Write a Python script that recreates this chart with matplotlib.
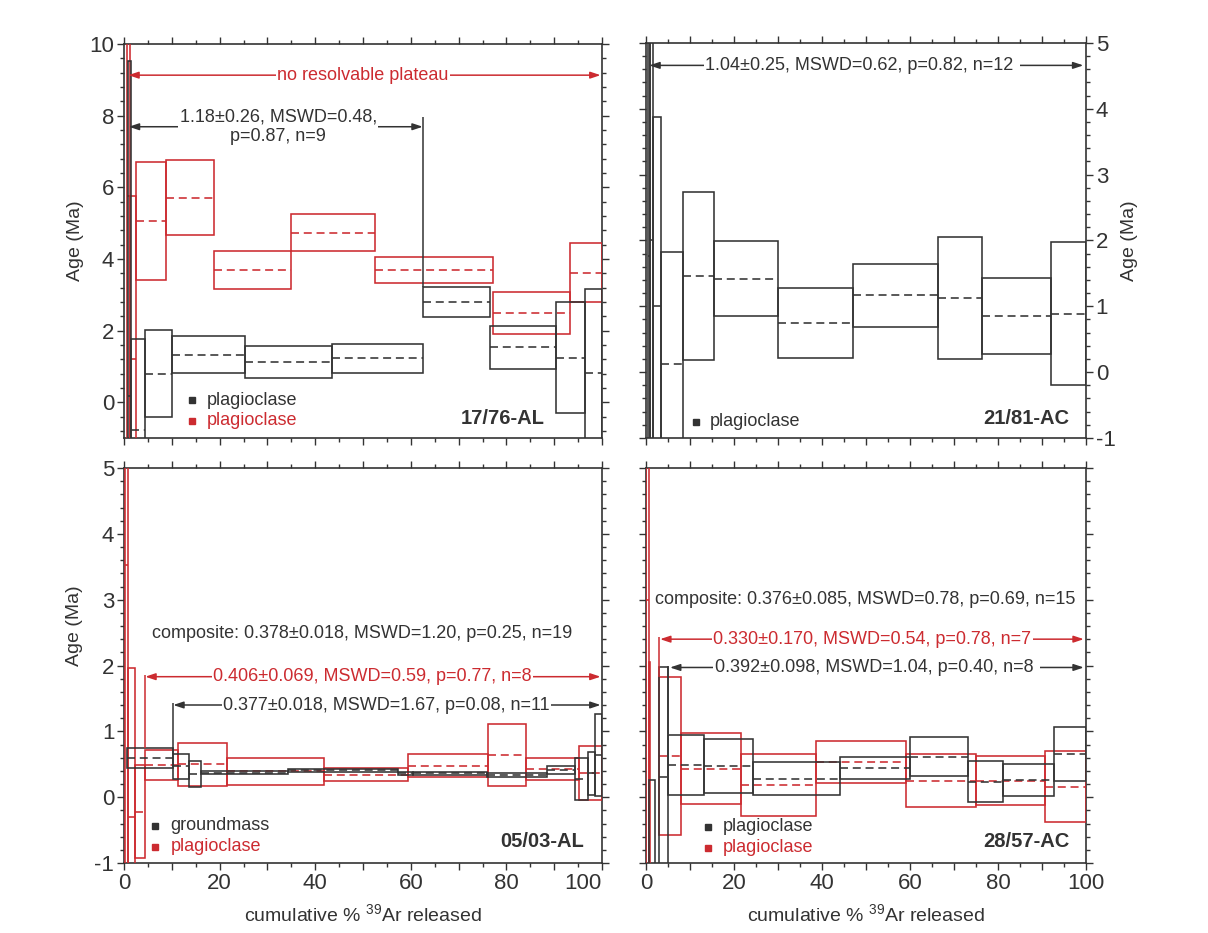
import matplotlib
matplotlib.use('Agg')
import matplotlib.pyplot as plt
from matplotlib.patches import Rectangle
from matplotlib.ticker import MultipleLocator

plt.rcParams['font.family'] = ['Liberation Sans', 'DejaVu Sans']
plt.rcParams['mathtext.default'] = 'regular'
plt.rcParams['axes.unicode_minus'] = False

BLACK = '#333333'
RED = '#cc2b30'

# ---- 17/76-AL (top left) ----
tl_black_edges = [0.9, 1.55, 4.4, 10.1, 25.3, 43.6, 62.5, 76.6, 90.4, 96.4, 100]
tl_black_age = [0.17, -0.78, 0.80, 1.33, 1.12, 1.22, 2.80, 1.53, 1.24, 0.82]
tl_black_err = [9.35, 2.54, 1.22, 0.51, 0.45, 0.41, 0.42, 0.61, 1.55, 2.34]
tl_red_edges = [0.6, 1.26, 2.5, 8.7, 18.8, 34.9, 52.5, 77.1, 93.4, 100]
tl_red_age = [5.76, 1.2, 5.06, 5.71, 3.69, 4.73, 3.70, 2.50, 3.62]
tl_red_err = [12.0, 4.56, 1.65, 1.04, 0.535, 0.51, 0.365, 0.585, 0.815]

# ---- 21/81-AC (top right) ----
tr_black_edges = [0.45, 0.9, 1.67, 3.3, 8.5, 15.5, 30.1, 47.0, 66.3, 76.4, 92.0, 100]
tr_black_age = [1.76, 2.0, 1.0, 0.12, 1.46, 1.42, 0.75, 1.165, 1.13, 0.855, 0.885]
tr_black_err = [10.0, 10.0, 2.88, 1.70, 1.28, 0.57, 0.53, 0.475, 0.93, 0.575, 1.085]

# ---- 05/03-AL (bottom left) ----
bl_black_edges = [0.55, 10.3, 13.6, 16.2, 34.4, 57.4, 60.5, 76.0, 88.5, 94.3, 97.1, 98.6, 100]
bl_black_age = [0.595, 0.47, 0.35, 0.37, 0.41, 0.36, 0.36, 0.335, 0.41, 0.275, 0.365, 0.64]
bl_black_err = [0.145, 0.19, 0.20, 0.025, 0.025, 0.025, 0.025, 0.025, 0.06, 0.325, 0.325, 0.62]
bl_red_edges = [0.3, 0.9, 2.2, 4.45, 11.2, 21.5, 41.8, 59.5, 76.1, 84.2, 95.2, 100]
bl_red_age = [3.53, -0.3, -0.22, 0.49, 0.50, 0.39, 0.34, 0.48, 0.64, 0.43, 0.36]
bl_red_err = [9.0, 2.26, 0.71, 0.23, 0.33, 0.21, 0.10, 0.17, 0.47, 0.17, 0.41]

# ---- 28/57-AC (bottom right) ----
br_black_edges = [0.75, 2.05, 3.0, 4.9, 13.2, 24.4, 44.1, 60.0, 73.1, 81.1, 92.7, 100]
br_black_age = [-2.0, None, 0.3, 0.49, 0.47, 0.28, 0.44, 0.615, 0.235, 0.265, 0.65]
br_black_err = [2.26, None, 1.67, 0.46, 0.41, 0.25, 0.17, 0.295, 0.315, 0.245, 0.41]
br_red_edges = [0, 0.6, 1.0, 3.0, 7.9, 21.5, 38.6, 59.0, 75.0, 90.7, 100]
br_red_age = [3.0, -1.0, None, 0.62, 0.435, 0.19, 0.54, 0.25, 0.25, 0.16]
br_red_err = [10.0, 3.06, None, 1.2, 0.545, 0.47, 0.32, 0.40, 0.37, 0.54]

x_ticks = list(range(0, 101, 10))
x_labels = [str(v) if v % 20 == 0 else '' for v in x_ticks]


def draw_steps(ax, edges, ages, errs, color):
    for i, (a, e) in enumerate(zip(ages, errs)):
        if a is None:
            continue
        x0, x1 = edges[i], edges[i + 1]
        ax.add_patch(Rectangle((x0, a - e), x1 - x0, 2 * e, fill=False,
                               edgecolor=color, lw=1.15, zorder=3))
        ax.hlines(a, x0, x1, colors=color, linestyles=(0, (5, 3)), lw=1.15, zorder=3)


def plateau(ax, x0, x1, y, text, tx, color, drop=None):
    ax.annotate('', xy=(x1, y), xytext=(x0, y), zorder=4,
                arrowprops=dict(arrowstyle='<|-|>,head_length=0.6,head_width=0.2',
                                color=color, lw=1.1, shrinkA=0, shrinkB=0))
    ax.text(tx, y, text, color=color, ha='center', va='center', fontsize=13,
            linespacing=1.2, zorder=5,
            bbox=dict(facecolor='white', edgecolor='none', pad=1))
    if drop is not None:
        ax.vlines(drop[0], drop[1], drop[2], colors=color, lw=1.1, zorder=3)


def setup(ax, ylim, ymajor, yminor):
    ax.set_xlim(0, 100)
    ax.set_ylim(*ylim)
    ax.set_xticks(x_ticks, x_labels)
    ax.xaxis.set_minor_locator(MultipleLocator(5))
    ax.yaxis.set_major_locator(MultipleLocator(ymajor))
    ax.yaxis.set_minor_locator(MultipleLocator(yminor))
    ax.tick_params(which='both', direction='out', top=True, right=True,
                   colors=BLACK, labelsize=16, width=1, pad=2)
    ax.tick_params(which='major', length=5)
    ax.tick_params(which='minor', length=3)
    for s in ax.spines.values():
        s.set_color(BLACK)
        s.set_linewidth(1.2)


def legend(ax, x, y, labels, colors, dy):
    for i, (lab, c) in enumerate(zip(labels, colors)):
        ax.plot([x], [y - i * dy], 's', ms=4.5, color=c, transform=ax.transAxes, clip_on=False)
        ax.text(x + 0.032, y - i * dy, lab, color=c, fontsize=13, va='center',
                transform=ax.transAxes)


def panel_label(ax, x, y, text):
    ax.text(x, y, text, ha='right', va='center', fontsize=14.5, fontweight='bold',
            color=BLACK, transform=ax.transAxes)


W, H = 1208, 933
fig = plt.figure(figsize=(W / 100, H / 100), dpi=100)
ax_tl = fig.add_axes([124 / W, 1 - 438 / H, 478 / W, 394 / H])
ax_tr = fig.add_axes([646 / W, 1 - 438 / H, 440 / W, 395 / H])
ax_bl = fig.add_axes([124 / W, 1 - 863 / H, 478 / W, 395 / H])
ax_br = fig.add_axes([646 / W, 1 - 863 / H, 440 / W, 395 / H])

xlabel = 'cumulative % $^{39}$Ar released'

# top left
setup(ax_tl, (-1, 10), 2, 0.4)
ax_tl.tick_params(labelbottom=False)
draw_steps(ax_tl, tl_red_edges, tl_red_age, tl_red_err, RED)
draw_steps(ax_tl, tl_black_edges, tl_black_age, tl_black_err, BLACK)
plateau(ax_tl, 0.9, 99.7, 9.13, 'no resolvable plateau', 50, RED)
plateau(ax_tl, 1.0, 62.5, 7.69, '1.18±0.26, MSWD=0.48,\np=0.87, n=9', 32.3, BLACK,
        drop=(62.5, 3.21, 7.97))
ax_tl.set_ylabel('Age (Ma)', fontsize=14, color=BLACK, labelpad=4)
legend(ax_tl, 0.1416, 0.0964, ['plagioclase', 'plagioclase'], [BLACK, RED], 0.053)
panel_label(ax_tl, 0.879, 0.05, '17/76-AL')

# top right
setup(ax_tr, (-1, 5), 1, 0.2)
ax_tr.tick_params(labelbottom=False, labelleft=False, labelright=True)
draw_steps(ax_tr, tr_black_edges, tr_black_age, tr_black_err, BLACK)
plateau(ax_tr, 0.75, 99.4, 4.66, '1.04±0.25, MSWD=0.62, p=0.82, n=12 ', 49, BLACK)
ax_tr.yaxis.set_label_position('right')
ax_tr.set_ylabel('Age (Ma)', fontsize=14, color=BLACK, labelpad=4)
legend(ax_tr, 0.1136, 0.041, ['plagioclase'], [BLACK], 0.053)
panel_label(ax_tr, 0.961, 0.05, '21/81-AC')

# bottom left
setup(ax_bl, (-1, 5), 1, 0.2)
ax_bl.get_xticklabels()[-1].set_horizontalalignment('right')
draw_steps(ax_bl, bl_red_edges, bl_red_age, bl_red_err, RED)
draw_steps(ax_bl, bl_black_edges, bl_black_age, bl_black_err, BLACK)
ax_bl.text(49.9, 2.49, 'composite: 0.378±0.018, MSWD=1.20, p=0.25, n=19',
           ha='center', va='center', fontsize=13, color=BLACK)
plateau(ax_bl, 4.45, 99.7, 1.83, '0.406±0.069, MSWD=0.59, p=0.77, n=8', 52, RED,
        drop=(4.45, 0.74, 1.86))
plateau(ax_bl, 10.3, 99.7, 1.40, '0.377±0.018, MSWD=1.67, p=0.08, n=11', 54.9, BLACK,
        drop=(10.3, 0.66, 1.43))
ax_bl.set_ylabel('Age (Ma)', fontsize=14, color=BLACK)
ax_bl.yaxis.set_label_coords(-0.085, 0.6)
ax_bl.set_xlabel(xlabel, fontsize=14, color=BLACK, labelpad=7)
legend(ax_bl, 0.0649, 0.0937, ['groundmass', 'plagioclase'], [BLACK, RED], 0.053)
panel_label(ax_bl, 0.962, 0.054, '05/03-AL')

# bottom right
setup(ax_br, (-1, 5), 1, 0.2)
ax_br.tick_params(labelleft=False)
draw_steps(ax_br, br_red_edges, br_red_age, br_red_err, RED)
draw_steps(ax_br, br_black_edges, br_black_age, br_black_err, BLACK)
ax_br.text(49.9, 3.0, 'composite: 0.376±0.085, MSWD=0.78, p=0.69, n=15',
           ha='center', va='center', fontsize=13, color=BLACK)
plateau(ax_br, 3.2, 99.5, 2.40, '0.330±0.170, MSWD=0.54, p=0.78, n=7', 51.4, RED,
        drop=(3.0, 1.83, 2.43))
plateau(ax_br, 5.45, 99.5, 1.97, '0.392±0.098, MSWD=1.04, p=0.40, n=8 ', 52.4, BLACK,
        drop=(4.9, 0.96, 2.0))
ax_br.set_xlabel(xlabel, fontsize=14, color=BLACK, labelpad=7)
legend(ax_br, 0.1416, 0.0919, ['plagioclase', 'plagioclase'], [BLACK, RED], 0.053)
panel_label(ax_br, 0.962, 0.054, '28/57-AC')

fig.savefig('out.png', dpi=100)
